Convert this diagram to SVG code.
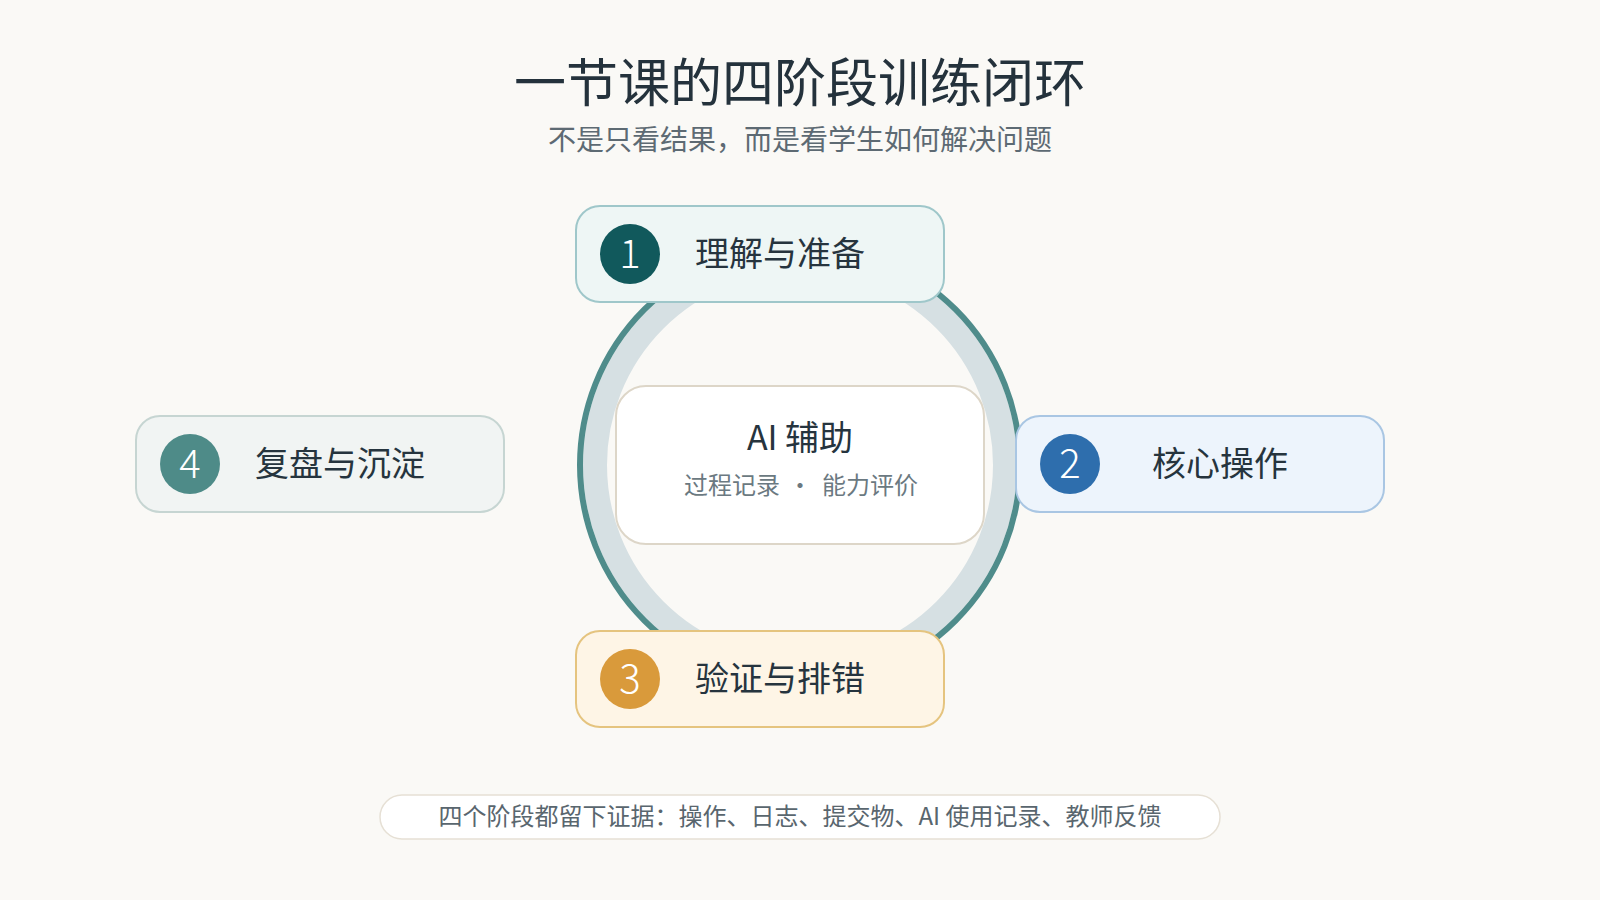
<svg xmlns="http://www.w3.org/2000/svg" width="1600" height="900" viewBox="0 0 1600 900">
<style>
text{font-family:"Noto Sans CJK SC","Noto Sans",sans-serif;}
.title{font-size:52px;fill:#24323c;text-anchor:middle;}
.sub{font-size:28px;fill:#5d6a73;text-anchor:middle;}
.node{stroke-width:2;}
.label{font-size:34px;fill:#26343e;text-anchor:middle;}
.num{font-size:40px;fill:#ffffff;text-anchor:middle;font-weight:300;}
.c1{fill:#eef6f5;stroke:#9fc7ca;}
.c2{fill:#edf4fc;stroke:#a9c6e3;}
.c3{fill:#fef5e6;stroke:#e5c47f;}
.c4{fill:#f1f4f3;stroke:#c6d5d2;}
</style>
<rect width="1600" height="900" fill="#faf9f6"/>
<text class="title" x="800" y="102">一节课的四阶段训练闭环</text>
<text class="sub" x="800" y="150">不是只看结果，而是看学生如何解决问题</text>
<g id="connectors">
<circle cx="800" cy="465" r="205" fill="none" stroke="#d6e0e3" stroke-width="24"/>
<circle cx="800" cy="465" r="220" fill="none" stroke="#4f8c8b" stroke-width="6"/>
</g>
<g id="center">
<rect x="616" y="386" width="368" height="158" rx="30" fill="#ffffff" stroke="#ddd6c8" stroke-width="2"/>
<text x="800" y="450" font-size="34" fill="#26343e" text-anchor="middle">AI 辅助</text>
<text x="684" y="494" font-size="24" fill="#6b7981">过程记录<tspan x="800" text-anchor="middle">·</tspan><tspan x="822">能力评价</tspan></text>
</g>
<g id="node1">
<rect class="node c1" x="576" y="206" width="368" height="96" rx="24"/>
<circle cx="630" cy="254" r="30" fill="#11595c"/>
<text class="num" x="630" y="268">1</text>
<text class="label" x="780" y="266">理解与准备</text>
</g>
<g id="node2">
<rect class="node c2" x="1016" y="416" width="368" height="96" rx="24"/>
<circle cx="1070" cy="464" r="30" fill="#2e6ead"/>
<text class="num" x="1070" y="478">2</text>
<text class="label" x="1220" y="476">核心操作</text>
</g>
<g id="node3">
<rect class="node c3" x="576" y="631" width="368" height="96" rx="24"/>
<circle cx="630" cy="679" r="30" fill="#d99a3b"/>
<text class="num" x="630" y="693">3</text>
<text class="label" x="780" y="691">验证与排错</text>
</g>
<g id="node4">
<rect class="node c4" x="136" y="416" width="368" height="96" rx="24"/>
<circle cx="190" cy="464" r="30" fill="#4e8b88"/>
<text class="num" x="190" y="478">4</text>
<text class="label" x="340" y="476">复盘与沉淀</text>
</g>
<g id="footer">
<rect x="380" y="795" width="840" height="44" rx="22" fill="#ffffff" stroke="#e6e0d5" stroke-width="1.5"/>
<text x="800" y="825" font-size="24" fill="#59666e" text-anchor="middle">四个阶段都留下证据：操作、日志、提交物、AI 使用记录、教师反馈</text>
</g>
</svg>
